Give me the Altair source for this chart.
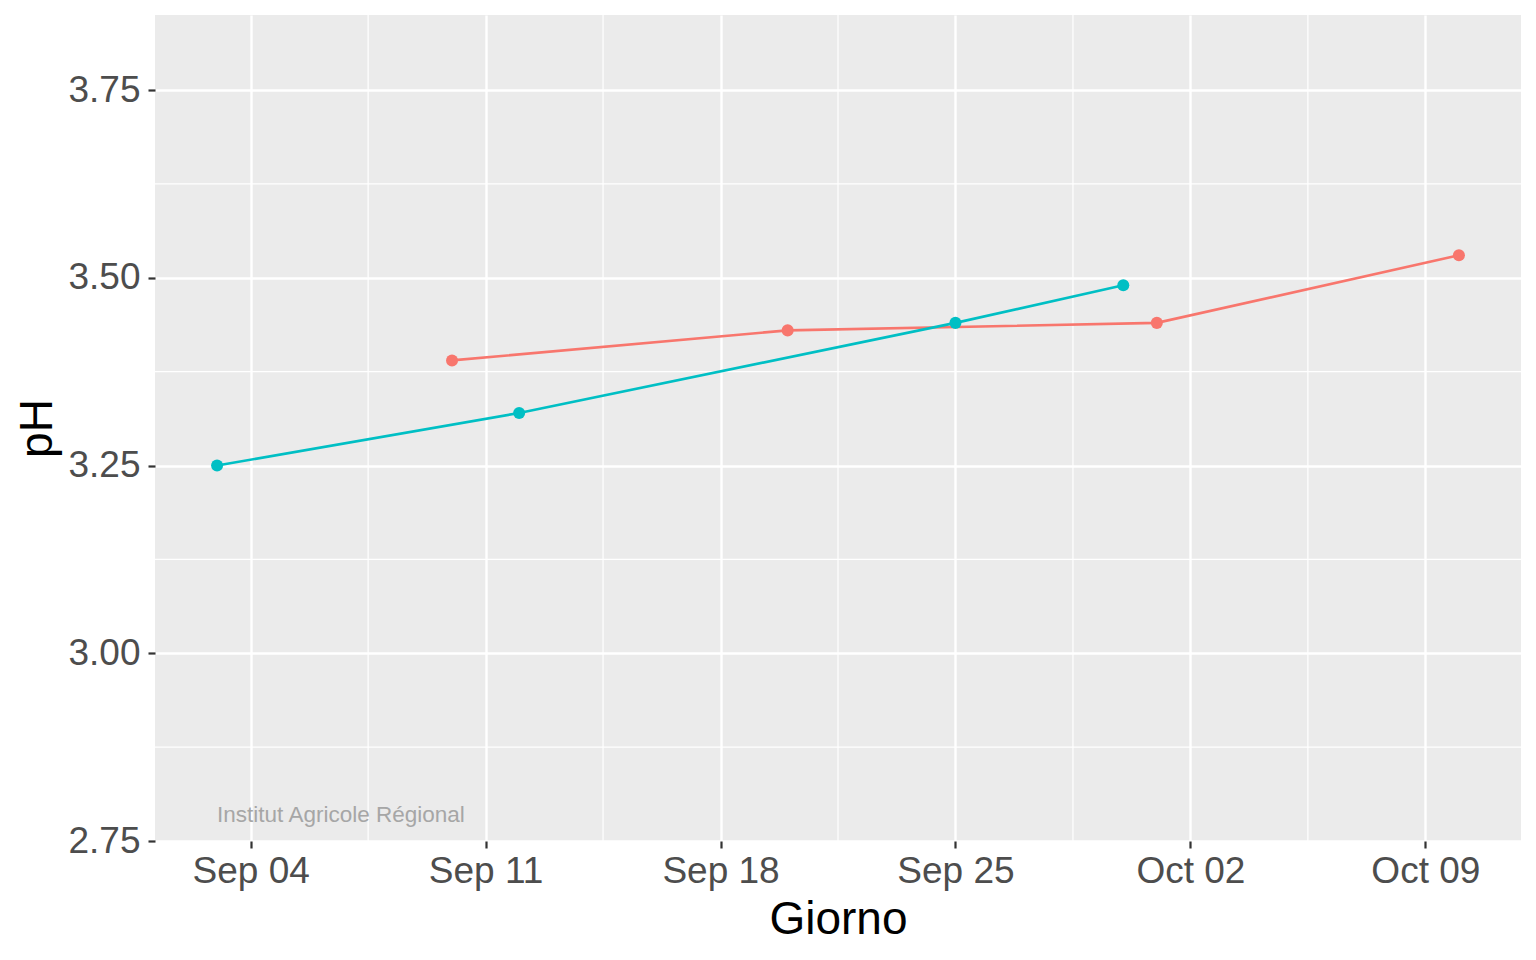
import altair as alt
import pandas as pd

# ---- data ----
series_names = ["Serie 1", "Serie 2"]
series_colors = ["#F8766D", "#00BFC4"]

red_dates = ["2023-09-10", "2023-09-20", "2023-10-01", "2023-10-10"]
red_ph = [3.39, 3.43, 3.44, 3.53]

cyan_dates = ["2023-09-03", "2023-09-12", "2023-09-25", "2023-09-30"]
cyan_ph = [3.25, 3.32, 3.44, 3.49]

x_tick_days = [(9, 4), (9, 11), (9, 18), (9, 25), (10, 2), (10, 9)]
x_tick_labels = ["Sep 04", "Sep 11", "Sep 18", "Sep 25", "Oct 02", "Oct 09"]
y_ticks = [2.75, 3.00, 3.25, 3.50, 3.75]

x_minor = ["2023-09-07T12:00:00Z", "2023-09-14T12:00:00Z", "2023-09-21T12:00:00Z",
           "2023-09-28T12:00:00Z", "2023-10-05T12:00:00Z"]
y_minor = [2.875, 3.125, 3.375, 3.625]

note_text = ["Institut Agricole Régional"]
note_date = ["2023-09-03"]
note_y = [2.775]

FONT = "Liberation Sans"

df = pd.DataFrame({
    "Giorno": red_dates + cyan_dates,
    "pH": red_ph + cyan_ph,
    "serie": [series_names[0]] * len(red_dates) + [series_names[1]] * len(cyan_dates),
})
minor_x_df = pd.DataFrame({"d": x_minor})
minor_y_df = pd.DataFrame({"v": y_minor})
note_df = pd.DataFrame({"d": note_date, "v": note_y, "t": note_text})

# label lookup: key "month-day" -> label text
keys = ["%d-%d" % (m - 1, d) for m, d in x_tick_days]
label_map = "{" + ",".join("'%s':'%s'" % (k, l) for k, l in zip(keys, x_tick_labels)) + "}"
label_expr = label_map + "[utcmonth(datum.value) + '-' + utcdate(datum.value)]"

x_scale = alt.Scale(
    type="utc",
    domain=[
        alt.DateTime(year=2023, month=9, date=1, hours=3, minutes=36, utc=True),
        alt.DateTime(year=2023, month=10, date=11, hours=20, minutes=24, utc=True),
    ],
)
y_scale = alt.Scale(domain=[2.75, 3.85], nice=False, zero=False)

x_axis = alt.Axis(
    title="Giorno",
    values=[alt.DateTime(year=2023, month=m, date=d, utc=True) for m, d in x_tick_days],
    labelExpr=label_expr,
    labelPadding=5,
    titlePadding=8,
)
y_axis = alt.Axis(
    title="pH",
    values=y_ticks,
    format=".2f",
    labelPadding=8,
    titlePadding=6,
)

color = alt.Color(
    "serie:N",
    scale=alt.Scale(domain=series_names, range=series_colors),
    legend=None,
)

minor_x = alt.Chart(minor_x_df).mark_rule(color="white", strokeWidth=1.2).encode(
    x=alt.X("d:T", scale=x_scale, axis=x_axis)
)
minor_y = alt.Chart(minor_y_df).mark_rule(color="white", strokeWidth=1.2).encode(
    y=alt.Y("v:Q", scale=y_scale, axis=y_axis)
)

base = alt.Chart(df).encode(
    x=alt.X("Giorno:T", scale=x_scale, axis=x_axis),
    y=alt.Y("pH:Q", scale=y_scale, axis=y_axis),
    color=color,
)
lines = base.mark_line(strokeWidth=2.6)
points = base.mark_circle(size=145, opacity=1)

note = alt.Chart(note_df).mark_text(
    align="left", baseline="alphabetic", font=FONT, fontSize=22.5, color="#A6A6A6"
).encode(
    x=alt.X("d:T", scale=x_scale, axis=x_axis),
    y=alt.Y("v:Q", scale=y_scale, axis=y_axis),
    text="t:N",
)

chart = (
    alt.layer(minor_x, minor_y, lines, points, note)
    .properties(
        width=1366,
        height=826,
        autosize=alt.AutoSizeParams(type="none"),
        padding={"left": 147, "top": 7, "right": 7, "bottom": 111},
        background="white",
    )
    .configure_view(fill="#EBEBEB", stroke=None)
    .configure_axis(
        labelFont=FONT,
        labelFontSize=37,
        labelColor="#4D4D4D",
        titleFont=FONT,
        titleFontSize=46,
        titleFontWeight="normal",
        titleColor="#000000",
        tickColor="#333333",
        tickSize=7,
        tickWidth=2.2,
        domain=False,
        grid=True,
        gridColor="white",
        gridWidth=2.4,
        labelFlush=False,
        labelOverlap=False,
    )
)

chart.save("out.html", embed_options={"renderer": "svg", "actions": False})
